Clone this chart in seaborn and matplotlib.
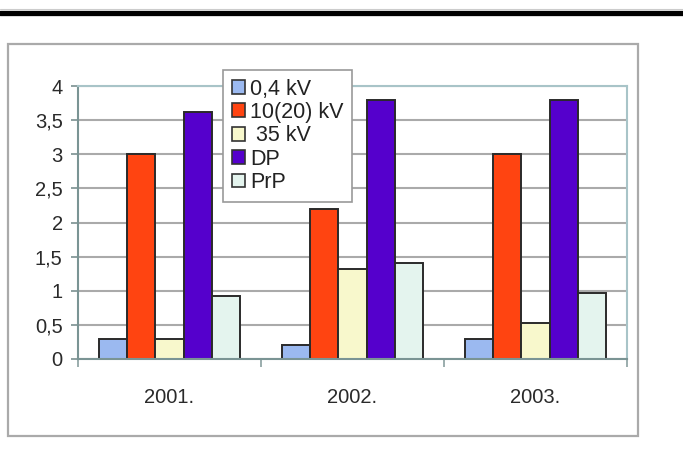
import matplotlib
matplotlib.use("Agg")
import matplotlib.pyplot as plt
from matplotlib.lines import Line2D
from matplotlib.patches import Rectangle
from matplotlib.ticker import FixedLocator, FuncFormatter
import seaborn as sns
import pandas as pd

# Data
years = ["2001.", "2002.", "2003."]
series = ["0,4 kV", "10(20) kV", " 35 kV", "DP", "PrP"]
v_04kv = [0.3, 0.2, 0.3]
v_10kv = [3.0, 2.2, 3.0]
v_35kv = [0.3, 1.32, 0.53]
v_dp = [3.62, 3.8, 3.8]
v_prp = [0.93, 1.4, 0.96]
colors = ["#9BB9F0", "#FF4411", "#F8F8CC", "#5500CC", "#E4F4EE"]

rows = []
for name, vals in zip(series, [v_04kv, v_10kv, v_35kv, v_dp, v_prp]):
    for y, v in zip(years, vals):
        rows.append({"year": y, "series": name, "value": v})
df = pd.DataFrame(rows)

sns.set_theme(style="white")
plt.rcParams["font.family"] = ["Liberation Sans", "DejaVu Sans"]

W, H = 683, 455
fig = plt.figure(figsize=(W / 100, H / 100), dpi=100)
fig.patch.set_facecolor("white")

# Header rule across the top
fig.add_artist(Line2D([0, 1], [1 - 9 / H, 1 - 9 / H], transform=fig.transFigure,
                      color="#cccccc", lw=0.8))
fig.add_artist(Line2D([0, 1], [1 - 12.5 / H, 1 - 12.5 / H], transform=fig.transFigure,
                      color="black", lw=3.8))

# Chart frame
fig.add_artist(Rectangle((8 / W, 1 - 436 / H), 630 / W, 392 / H,
                         transform=fig.transFigure, fill=False,
                         edgecolor="#aaaaaa", lw=1.6))

ax = fig.add_axes([78 / W, 1 - 359 / H, 549 / W, 273 / H])
sns.barplot(data=df, x="year", y="value", hue="series", palette=colors,
            width=0.775, edgecolor="#2a2a2a", linewidth=1.4, saturation=1,
            ax=ax, legend=True)

ax.set_xlim(-0.5, 2.5)
ax.set_ylim(0, 4)
ax.set_xlabel("")
ax.set_ylabel("")

yt = [0, 0.5, 1, 1.5, 2, 2.5, 3, 3.5, 4]
ax.yaxis.set_major_locator(FixedLocator(yt))
ax.yaxis.set_major_formatter(FuncFormatter(lambda v, p: f"{v:g}".replace(".", ",")))
ax.yaxis.grid(True, color="#aaaaaa", lw=1.5)
ax.set_axisbelow(True)

ax.tick_params(axis="y", which="major", left=True, length=5, width=1.2,
               color="#7a9090", labelsize=14.5, labelcolor="#2a2a2a", pad=6)
ax.tick_params(axis="x", which="major", bottom=False, length=0,
               labelsize=14.5, labelcolor="#2a2a2a", pad=21)
ax.xaxis.set_minor_locator(FixedLocator([-0.5, 0.5, 1.5, 2.5]))
ax.tick_params(axis="x", which="minor", bottom=True, length=6, width=1.2,
               color="#8aa0a0")

for side in ["top", "right"]:
    ax.spines[side].set_color("#a8c4c8")
    ax.spines[side].set_linewidth(1.5)
for side in ["left", "bottom"]:
    ax.spines[side].set_color("#7a9494")
    ax.spines[side].set_linewidth(1.5)

leg = ax.legend(loc="upper left", bbox_to_anchor=(223 / W, 1 - 70 / H),
                bbox_transform=fig.transFigure, fontsize=15.5, frameon=True,
                fancybox=False, edgecolor="#999999", framealpha=1,
                handlelength=0.62, handleheight=0.62, handletextpad=0.25,
                labelspacing=0.11, borderpad=0.4, borderaxespad=0)
leg.get_frame().set_linewidth(1.2)
for t in leg.get_texts():
    t.set_color("#222222")
for h in leg.legend_handles:
    h.set_edgecolor("#333333")
    h.set_linewidth(1.2)

fig.savefig("out.png", dpi=100, facecolor="white")
